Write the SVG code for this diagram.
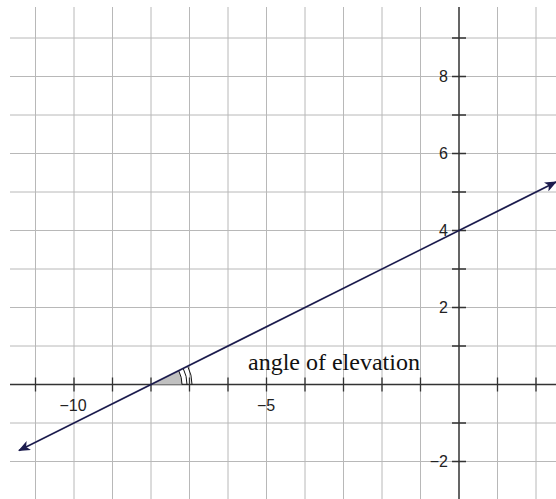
<svg xmlns="http://www.w3.org/2000/svg" width="556" height="499" viewBox="0 0 556 499">
<defs>
<style>
.grid{stroke:#b8b8b8;stroke-width:1;fill:none}
.axis{stroke:#333;stroke-width:1.5;fill:none}
.tick{stroke:#333;stroke-width:1.3;fill:none}
.num{font-family:"Liberation Sans",Arial,sans-serif;font-size:16px;fill:#222}
.lbl{font-family:"Liberation Serif","Times New Roman",serif;font-size:24px;fill:#111}
.line{stroke:#1c1c4e;stroke-width:1.6;fill:none}
.arc{stroke:#111;stroke-width:1;fill:none}
</style>
<marker id="ah" viewBox="0 0 12 10" refX="11" refY="5" markerWidth="12" markerHeight="10" markerUnits="userSpaceOnUse" orient="auto-start-reverse">
<path d="M0,0 L12,5 L0,10 L3,5 Z" fill="#1c1c4e"/>
</marker>
</defs>
<rect width="556" height="499" fill="#fff"/>
<g id="grid">
<path class="grid" d="M35.5,7V499M74,7V499M112.5,7V499M151,7V499M189.5,7V499M228,7V499M266.5,7V499M305,7V499M343.5,7V499M382,7V499M420.5,7V499M497.5,7V499M536,7V499"/>
<path class="grid" d="M10,38H556M10,76.5H556M10,115H556M10,153.5H556M10,192H556M10,230.5H556M10,269H556M10,307.5H556M10,346H556M10,423H556M10,461.5H556"/>
</g>
<g id="axes">
<path class="axis" d="M10,384.5H556M459,7V499"/>
<path class="tick" d="M35.5,377.5v14M74,377.5v14M112.5,377.5v14M151,377.5v14M189.5,377.5v14M228,377.5v14M266.5,377.5v14M305,377.5v14M343.5,377.5v14M382,377.5v14M420.5,377.5v14M497.5,377.5v14M536,377.5v14"/>
<path class="tick" d="M452,38h14M452,76.5h14M452,115h14M452,153.5h14M452,192h14M452,230.5h14M452,269h14M452,307.5h14M452,346h14M452,423h14M452,461.5h14"/>
<text class="num" x="73" y="410.5" text-anchor="middle">−10</text>
<text class="num" x="266" y="410.5" text-anchor="middle">−5</text>
<text class="num" x="448" y="82" text-anchor="end">8</text>
<text class="num" x="448" y="159" text-anchor="end">6</text>
<text class="num" x="448" y="236" text-anchor="end">4</text>
<text class="num" x="448" y="313" text-anchor="end">2</text>
<text class="num" x="448" y="467" text-anchor="end">−2</text>
</g>
<g id="angle">
<path d="M151,384.5 H182 A31,31 0 0 0 178.7,370.6 Z" fill="#c0c0c0" stroke="none"/>
<path class="arc" d="M182,384.5 A31,31 0 0 0 178.7,370.6"/>
<path class="arc" d="M187,384.5 A36,36 0 0 0 183.2,368.4"/>
<path class="arc" d="M192,384.5 A41,41 0 0 0 187.7,366.2"/>
<text class="lbl" x="248" y="370">angle of elevation</text>
</g>
<g id="connectors">
<path class="line" d="M19,450.5 L556,182" marker-start="url(#ah)" marker-end="url(#ah)"/>
</g>
</svg>
